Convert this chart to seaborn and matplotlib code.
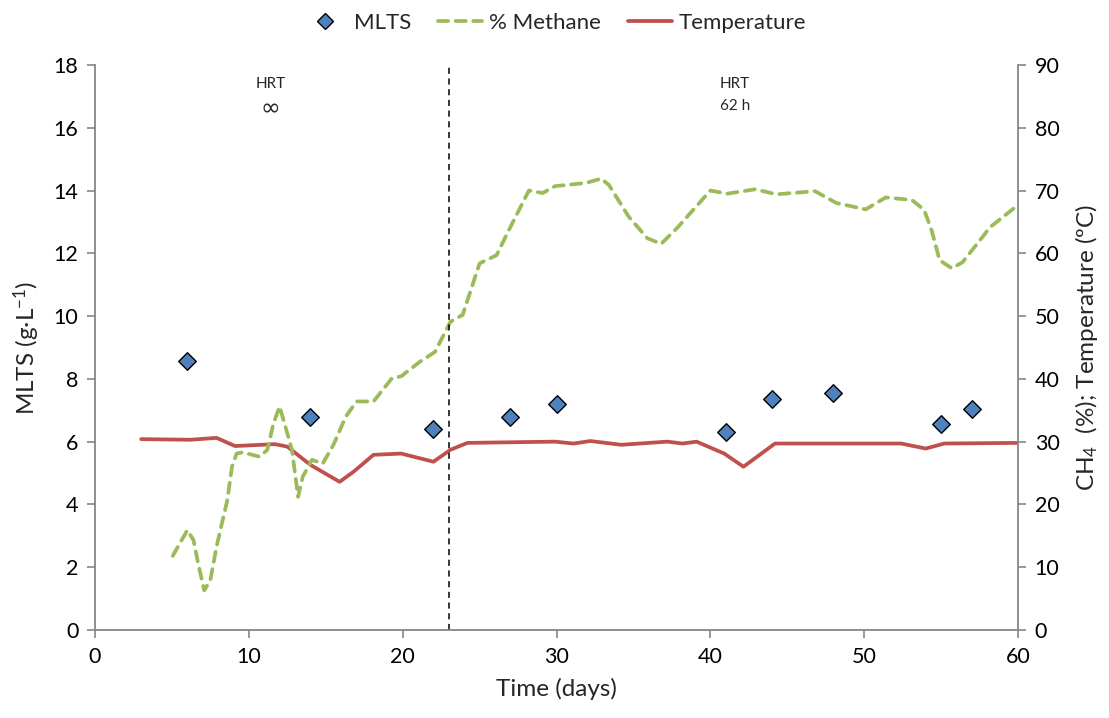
import matplotlib
matplotlib.use("Agg")
import matplotlib.pyplot as plt
import seaborn as sns
import pandas as pd
from matplotlib.lines import Line2D

# ---- data ----
mlts_day = [6, 14, 22, 27, 30, 41, 44, 48, 55, 57]
mlts_val = [8.57, 6.8, 6.4, 6.8, 7.2, 6.3, 7.35, 7.55, 6.55, 7.05]

methane_day = [5.05, 6.0, 6.4, 6.7, 7.1, 7.5, 7.9, 8.6, 8.9, 9.2, 9.6, 10.7, 11.2, 11.6, 12.0,
               12.5, 12.8, 13.2, 13.5, 14.1, 14.8, 15.5, 16.3, 17.0, 18.1, 19.3, 19.9, 21.1,
               22.1, 23.1, 23.9, 25.0, 26.1, 26.9, 28.2, 29.1, 29.9, 31.9, 32.9, 33.4,
               34.7, 35.9, 36.8, 37.9, 40.0, 41.1, 42.9, 44.3, 46.8, 48.2, 50.1, 51.4,
               53.1, 53.9, 54.4, 54.9, 55.7, 56.4, 58.2, 60.0]
methane_pct = [11.8, 15.9, 14.3, 10.6, 6.3, 8.0, 13.3, 20.7, 26.0, 28.1, 28.3, 27.6, 28.7, 32.9, 35.6,
               31.3, 28.7, 21.2, 24.4, 27.1, 26.5, 29.5, 34.0, 36.4, 36.4, 40.1, 40.4, 42.7,
               44.3, 49.1, 50.2, 58.4, 59.7, 63.7, 70.0, 69.6, 70.7, 71.2, 71.9, 70.9,
               65.8, 62.4, 61.5, 64.2, 70.0, 69.5, 70.2, 69.4, 69.9, 68.0, 67.0, 68.9,
               68.5, 66.9, 63.5, 58.9, 57.6, 58.6, 64.2, 67.7]

temp_day = [3.0, 6.2, 7.9, 9.1, 11.7, 12.5, 14.0, 15.9, 16.8, 18.1, 19.9, 22.0, 23.1,
            24.2, 29.9, 31.1, 32.2, 34.2, 37.2, 38.2, 39.1, 40.9, 42.15, 44.2, 52.4,
            54.0, 55.2, 60.0]
temp_c = [30.4, 30.3, 30.6, 29.3, 29.6, 29.2, 26.3, 23.6, 25.2, 27.9, 28.1, 26.8, 28.7,
          29.8, 30.0, 29.7, 30.1, 29.5, 30.0, 29.7, 30.0, 28.1, 26.0, 29.7, 29.7,
          28.9, 29.7, 29.8]

x_ticks = [0, 10, 20, 30, 40, 50, 60]
left_ticks = [0, 2, 4, 6, 8, 10, 12, 14, 16, 18]
right_ticks = [0, 10, 20, 30, 40, 50, 60, 70, 80, 90]
hrt_change_day = 23

# ---- style ----
sns.set_style("white")
plt.rcParams['font.family'] = ['Lato', 'DejaVu Sans']
plt.rcParams['mathtext.fontset'] = 'custom'
plt.rcParams['mathtext.rm'] = 'Lato'
plt.rcParams['mathtext.it'] = 'Lato'

grey = '#868686'
c_mlts = '#4F81BD'
c_meth = '#9BBB59'
c_temp = '#C0504D'

fig = plt.figure(figsize=(11.09, 7.18), dpi=100)
ax = fig.add_axes([0.0857, 0.1226, 0.8323, 0.7869])
ax2 = ax.twinx()

df_m = pd.DataFrame({'day': mlts_day, 'val': mlts_val})
df_me = pd.DataFrame({'day': methane_day, 'val': methane_pct})
df_t = pd.DataFrame({'day': temp_day, 'val': temp_c})

sns.lineplot(data=df_t, x='day', y='val', ax=ax2, color=c_temp, linewidth=2.7,
             sort=False, estimator=None)
sns.lineplot(data=df_me, x='day', y='val', ax=ax2, color=c_meth, linewidth=2.7,
             sort=False, estimator=None)
meth_line = ax2.lines[-1]
meth_line.set_dashes([2.7, 2.0])
meth_line.set_dash_capstyle('round')
meth_line.set_solid_joinstyle('round')
ax2.lines[0].set_solid_joinstyle('round')

ax.set_zorder(ax2.get_zorder() + 1)
ax.patch.set_visible(False)
sns.scatterplot(data=df_m, x='day', y='val', ax=ax, marker='D', s=80,
                color=c_mlts, edgecolor='black', linewidth=1.0, zorder=5)

ax.axvline(hrt_change_day, color='black', linestyle=(0, (4, 3)), linewidth=1.1)

ax.set_xlim(0, 60)
ax.set_ylim(0, 18)
ax2.set_ylim(0, 90)
ax.set_xticks(x_ticks)
ax.set_yticks(left_ticks)
ax2.set_yticks(right_ticks)

for a in (ax, ax2):
    for s in a.spines.values():
        s.set_visible(False)
ax.spines['left'].set_visible(True)
ax.spines['bottom'].set_visible(True)
ax2.spines['right'].set_visible(True)
for s in (ax.spines['left'], ax.spines['bottom'], ax2.spines['right']):
    s.set_color(grey)
    s.set_linewidth(1.3)

ax.tick_params(axis='both', direction='out', length=6, width=1.2, color=grey,
               labelsize=15.5, labelcolor='black', left=True, bottom=True, pad=6)
ax2.tick_params(axis='y', direction='out', length=6, width=1.2, color=grey,
                labelsize=15.5, labelcolor='black', right=True, pad=6)

ax.set_xlabel('Time (days)', fontsize=17.5, labelpad=8)
ax.set_ylabel('MLTS (g·L$^{-1}$)', fontsize=17.5, labelpad=8)
ax2.set_ylabel('CH$_4$  (%); Temperature (ºC)', fontsize=17.5, labelpad=10)

ax.text(11.4, 17.4, 'HRT', ha='center', va='center', fontsize=11)
ax.text(11.4, 16.6, '∞', ha='center', va='center', fontsize=17, family='DejaVu Sans')
ax.text(41.6, 17.4, 'HRT', ha='center', va='center', fontsize=11)
ax.text(41.6, 16.7, '62 h', ha='center', va='center', fontsize=11)

handles = [
    Line2D([], [], marker='D', linestyle='none', markerfacecolor=c_mlts,
           markeredgecolor='black', markersize=8.5),
    Line2D([], [], color=c_meth, linewidth=2.7, dashes=[2.7, 2.0], dash_capstyle='round'),
    Line2D([], [], color=c_temp, linewidth=2.7),
]
fig.legend(handles, ['MLTS', '% Methane', 'Temperature'], loc='center',
           bbox_to_anchor=(0.5, 0.968), ncol=3, frameon=False, fontsize=16,
           handlelength=2.0, handletextpad=0.3, columnspacing=1.2)
for a in (ax, ax2):
    if a.get_legend() is not None:
        a.get_legend().remove()

fig.savefig('out.png', dpi=100)
